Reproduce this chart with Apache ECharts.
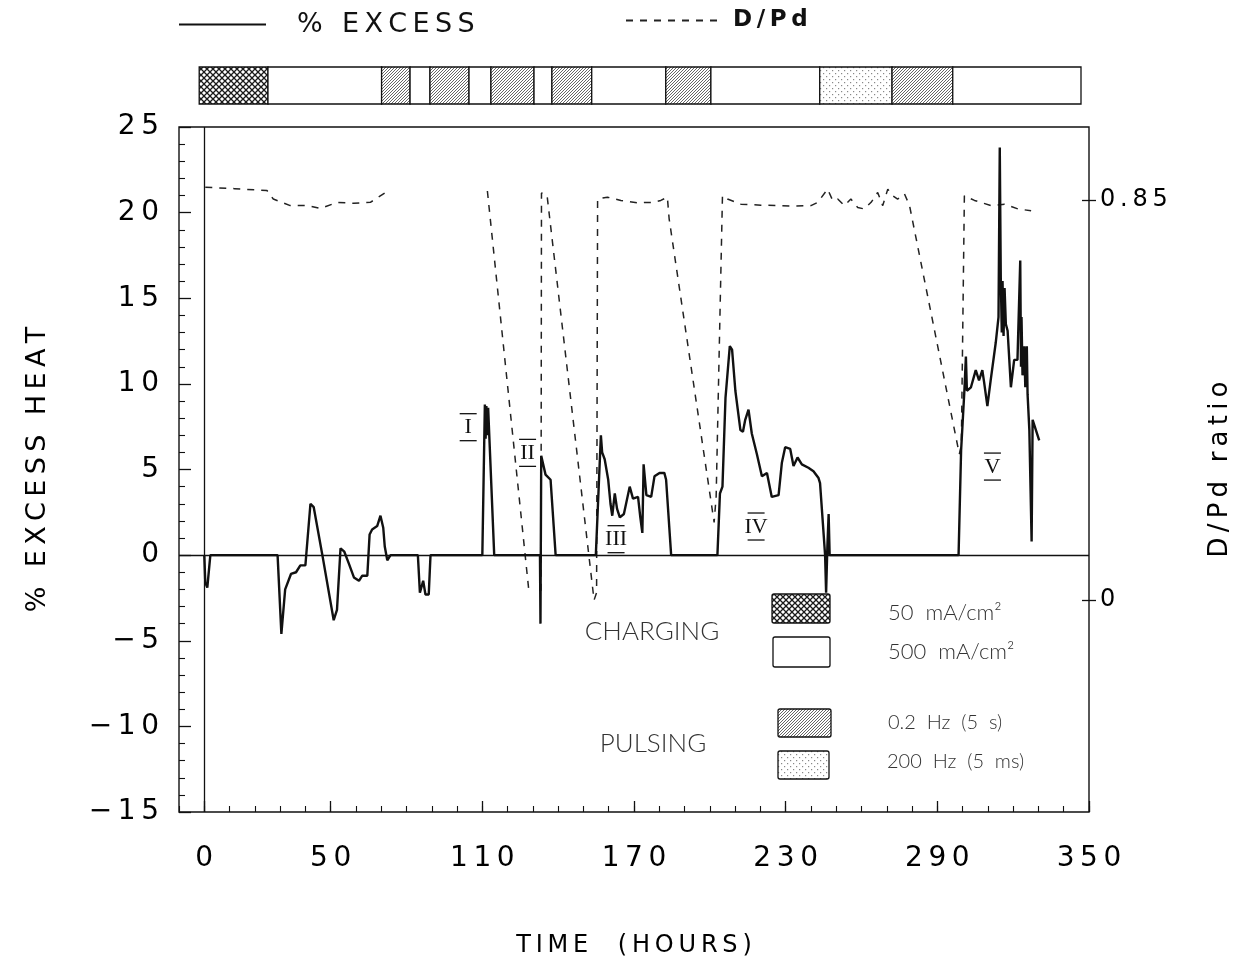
<!DOCTYPE html>
<html>
<head>
<meta charset="utf-8">
<title>Excess heat and D/Pd ratio</title>
<script src="https://cdn.jsdelivr.net/npm/echarts@6/dist/echarts.min.js"></script>
<style>
  html, body { margin: 0; padding: 0; background: #fff; }
  #chart { width: 1248px; height: 966px; }
</style>
</head>
<body>
<div id="chart"></div>
<script>
// ---- data ----
var xTicks = [0, 50, 110, 170, 230, 290, 350];
var ratioTicks = [0, 0.85];

// % excess heat, [hours, percent]
var excessHeat = [
  [0, 0], [0.4, -1.6], [1.2, -1.9], [2.4, 0], [29, 0], [30.5, -4.6], [32, -2.0],
  [34.3, -1.1], [36.3, -1.0], [38, -0.6], [40, -0.6], [42, 3.0], [43.3, 2.8],
  [46.6, 0.1], [51.2, -3.8], [52.5, -3.2], [53.9, 0.4], [55.4, 0.2], [57.2, -0.5],
  [59.2, -1.3], [61.2, -1.5], [62.5, -1.2], [64.5, -1.2], [65.4, 1.2], [66.4, 1.5],
  [68.4, 1.7], [69.7, 2.3], [70.8, 1.6], [71.4, 0.5], [72.4, -0.3], [73.7, 0],
  [84.5, 0], [85.3, -2.2], [86.6, -1.5], [87.5, -2.3], [88.8, -2.3], [89.5, 0],
  [110, 0], [111, 8.8], [111.3, 6.8], [111.6, 8.7], [111.9, 7.0], [112.3, 8.6], [114.7, 0],
  [132.8, 0], [133, -4.0], [133.3, 5.8], [135, 4.7], [137, 4.4], [139, 0],
  [147, 0], [147.4, 0.1], [147.8, 0], [154.9, 0], [156.9, 7.0], [157.4, 6.0],
  [158.4, 5.6], [159, 5.7], [159.8, 4.4], [160.7, 3.0], [161.4, 2.3], [162.4, 3.6],
  [163.3, 2.7], [164.4, 2.2], [166, 2.4], [168.3, 4.0], [169.6, 3.3], [171.6, 3.4],
  [172.5, 2.2], [173.3, 1.3], [173.8, 5.3], [174.9, 3.5], [176.8, 3.4], [178.1, 4.6],
  [180.1, 4.8], [182, 4.8], [182.7, 4.4], [184.7, 0], [203, 0], [204, 3.6], [205, 4.0],
  [206.2, 9.2], [207.9, 12.2], [208.8, 12.0], [210.1, 9.6], [212.1, 7.3], [213.1, 7.2],
  [214, 7.9], [215.3, 8.5], [216.6, 7.1], [218.6, 5.9], [220.6, 4.6], [222.6, 4.8],
  [224.5, 3.4], [227.2, 3.5], [228.5, 5.4], [229.8, 6.3], [231.8, 6.2], [233.1, 5.2],
  [234.7, 5.7], [236.4, 5.3], [239, 5.1], [241, 4.9], [243, 4.5], [243.6, 4.2],
  [244.7, 1.9], [245.6, 0], [246, -2.2], [246.5, 0.5], [247, 2.4], [247.4, 0],
  [298.4, 0], [299.4, 6.1], [300, 7.7], [300.7, 9.6], [301.3, 11.6], [301.7, 9.6],
  [303.3, 9.8], [305.2, 10.8], [306.5, 10.2], [307.8, 10.8], [308.5, 10.1], [309.8, 8.7],
  [311.1, 10.2], [313.1, 12.4], [314.2, 13.9], [314.7, 23.8], [315.1, 16.2], [315.5, 13.0],
  [315.8, 16.0], [316.2, 12.8], [316.6, 15.6], [317.1, 13.5], [317.8, 13.1], [319.1, 9.8],
  [320.4, 11.4], [321.7, 11.4], [322.8, 17.2], [323.1, 11.0], [323.3, 13.9], [323.7, 10.5],
  [324.4, 12.2], [324.8, 9.8], [325.4, 12.2], [325.7, 9.4], [326.4, 7.3], [327.3, 0.8],
  [327.7, 7.9], [329, 7.3], [330.3, 6.7]
];

// D/Pd loading ratio, [hours, ratio]; null values break the line
var dpdRatio = [
  [0.4, 0.877], [12, 0.874], [24.8, 0.870], [27.3, 0.852], [34, 0.838], [40.7, 0.838],
  [46, 0.832], [52.6, 0.845], [59.1, 0.843], [65.7, 0.845], [72.4, 0.868], [90, null],
  [112, 0.869], [128.4, 0.02], [131, null], [133.2, 0.02], [133.4, 0.865], [135.6, 0.86],
  [154.2, 0.0], [155.2, 0.016], [155.6, 0.852], [159.5, 0.856], [164.8, 0.849],
  [171.4, 0.844], [178, 0.845], [180.6, 0.849], [183.2, 0.856], [183.9, 0.81],
  [201.7, 0.165], [202.5, 0.22], [205, 0.859], [207, 0.852], [212.3, 0.841],
  [220.2, 0.839], [226.8, 0.838], [233.4, 0.837], [240, 0.838], [242.7, 0.845],
  [246.6, 0.873], [248.6, 0.849], [250.6, 0.852], [253.2, 0.838], [255.8, 0.852],
  [258.5, 0.834], [261.1, 0.831], [263.8, 0.845], [266.4, 0.866], [268.4, 0.838],
  [270.4, 0.873], [272.4, 0.859], [274.3, 0.852], [277, 0.863], [279, 0.838],
  [298.7, 0.31], [299.5, 0.33], [300.7, 0.859], [304.7, 0.849], [311.3, 0.838],
  [316.6, 0.841], [321.9, 0.831], [327.1, 0.827]
];

// charging / pulsing schedule shown in the strip above the plot
var bandStart = [0, 27.3, 72.4, 83.7, 91.6, 107.1, 115.8, 132.9, 140, 155.8, 185.2, 203.1, 246.3, 275, 299.1];
var bandEnd   = [27.3, 72.4, 83.7, 91.6, 107.1, 115.8, 132.9, 140, 155.8, 185.2, 203.1, 246.3, 275, 299.1, 350];
var bandMode  = ['low', 'high', 'slow', 'high', 'slow', 'high', 'slow', 'high', 'slow', 'high', 'slow', 'high', 'fast', 'slow', 'high'];

// roman numeral markers for the heat bursts
var peakNames  = ['I', 'II', 'III', 'IV', 'V'];
var peakHours  = [104.4, 127.9, 162.9, 218.3, 311.8];
var peakValues = [7.5, 6.0, 0.96, 1.7, 5.2];

// ---- helpers ----
function spaced(s) { return String(s).split('').join('\u2009'); }

function makePattern(kind) {
  var c = document.createElement('canvas');
  var ctx = c.getContext('2d');
  if (kind === 'low') {
    c.width = 6; c.height = 6;
    ctx.fillStyle = '#fff'; ctx.fillRect(0, 0, 6, 6);
    ctx.strokeStyle = '#1a1a1a'; ctx.lineWidth = 1.3;
    ctx.beginPath();
    ctx.moveTo(0, 0); ctx.lineTo(6, 6);
    ctx.moveTo(6, 0); ctx.lineTo(0, 6);
    ctx.stroke();
  } else if (kind === 'slow') {
    c.width = 3; c.height = 3;
    ctx.fillStyle = '#fff'; ctx.fillRect(0, 0, 3, 3);
    ctx.strokeStyle = '#555'; ctx.lineWidth = 0.9;
    ctx.beginPath();
    ctx.moveTo(-1, 4); ctx.lineTo(4, -1);
    ctx.moveTo(-1, 1); ctx.lineTo(1, -1);
    ctx.moveTo(2, 4); ctx.lineTo(4, 2);
    ctx.stroke();
  } else if (kind === 'fast') {
    c.width = 6; c.height = 6;
    ctx.fillStyle = '#fff'; ctx.fillRect(0, 0, 6, 6);
    ctx.fillStyle = '#888';
    ctx.fillRect(1, 1, 1.2, 1.2);
    ctx.fillRect(4, 4, 1.2, 1.2);
  } else {
    return '#fff';
  }
  return { image: c, repeat: 'repeat' };
}
var fills = {
  low: makePattern('low'),
  high: makePattern('high'),
  slow: makePattern('slow'),
  fast: makePattern('fast')
};

var ink = '#111';
var legendFont = 'Lato';

var chart = echarts.init(document.getElementById('chart'));

var option = {
  animation: false,
  backgroundColor: '#fff',
  textStyle: { fontFamily: 'DejaVu Sans', color: ink },
  legend: [
    {
      data: ['% EXCESS'], left: 173, top: 6, itemWidth: 87, itemHeight: 14,
      itemStyle: { opacity: 0 },
      formatter: function (n) { return spaced(n); },
      textStyle: { fontSize: 27, color: ink, padding: [0, 0, 0, 26] }
    },
    {
      data: ['D/Pd'], left: 620, top: 4, itemWidth: 92, itemHeight: 14,
      itemStyle: { opacity: 0 },
      formatter: function (n) { return spaced(n); },
      textStyle: { fontSize: 23, fontWeight: 'bold', color: ink, padding: [0, 0, 0, 10] }
    }
  ],
  grid: [
    { left: 179, right: 159, top: 127, bottom: 154, show: true, borderColor: ink, borderWidth: 1.4 },
    { left: 174, right: 167, top: 67, height: 37 }
  ],
  xAxis: [
    {
      gridIndex: 0, type: 'value', min: -10, max: 350, position: 'bottom',
      axisLine: { show: false, onZero: false },
      axisTick: { inside: true, length: 11, customValues: xTicks, lineStyle: { color: ink, width: 1.3 } },
      axisLabel: { customValues: xTicks, formatter: spaced, fontSize: 28, color: '#000', margin: 33 },
      splitLine: { show: false },
      name: spaced('TIME  (HOURS)'), nameLocation: 'middle', nameGap: 122,
      nameTextStyle: { fontSize: 24, color: '#000' }
    },
    {
      gridIndex: 0, type: 'value', min: -10, max: 350, interval: 10, position: 'bottom',
      axisLine: { show: false, onZero: false },
      axisTick: { inside: true, length: 6, lineStyle: { color: ink, width: 1.1 } },
      axisLabel: { show: false }, splitLine: { show: false }
    },
    { gridIndex: 1, type: 'value', min: -10, max: 350, show: false }
  ],
  yAxis: [
    {
      gridIndex: 0, type: 'value', min: -15, max: 25, interval: 5, position: 'left',
      axisLine: { show: false, onZero: false },
      axisTick: { inside: true, length: 12, lineStyle: { color: ink, width: 1.3 } },
      minorTick: { show: true, splitNumber: 5, length: 6, lineStyle: { color: ink, width: 1.1 } },
      axisLabel: {
        fontSize: 28, color: '#000', margin: 20,
        formatter: function (v) { return v < 0 ? '\u2212\u2009' + spaced(-v) : spaced(v); }
      },
      splitLine: { show: false },
      name: spaced('% EXCESS HEAT'), nameLocation: 'middle', nameGap: 128, nameRotate: 90,
      nameTextStyle: { fontSize: 27, color: '#000' }
    },
    {
      gridIndex: 0, type: 'value', min: -0.45, max: 1.005, position: 'right',
      axisLine: { show: false, onZero: false },
      axisTick: { inside: false, length: 7, customValues: ratioTicks, lineStyle: { color: ink, width: 1.3 } },
      axisLabel: {
        customValues: ratioTicks, fontSize: 24, color: '#000', margin: 11,
        formatter: function (v) { return v === 0 ? '0' : spaced(v.toFixed(2)); }
      },
      splitLine: { show: false },
      name: spaced('D/Pd ratio'), nameLocation: 'middle', nameGap: 118, nameRotate: 90,
      nameTextStyle: { fontSize: 26, color: '#000' }
    },
    {
      gridIndex: 0, type: 'value', min: -0.45, max: 1.005, position: 'right', offset: 0,
      axisLine: { show: false, onZero: false },
      axisTick: { inside: true, length: 7, customValues: ratioTicks, lineStyle: { color: ink, width: 1.3 } },
      axisLabel: { show: false }, splitLine: { show: false }
    },
    { gridIndex: 1, type: 'value', min: 0, max: 1, show: false }
  ],
  series: [
    {
      name: '% EXCESS', type: 'line', xAxisIndex: 0, yAxisIndex: 0,
      data: excessHeat, symbol: 'none', z: 4,
      lineStyle: { color: ink, width: 2.4 },
      itemStyle: { color: ink },
      markLine: {
        silent: true, symbol: 'none', label: { show: false },
        lineStyle: { color: ink, width: 1.3, type: 'solid' },
        data: [{ xAxis: 0 }, { yAxis: 0 }]
      }
    },
    {
      name: 'D/Pd', type: 'line', xAxisIndex: 0, yAxisIndex: 1,
      data: dpdRatio, symbol: 'none', connectNulls: false, z: 3,
      lineStyle: { color: '#222', width: 1.5, type: [7, 7] },
      itemStyle: { color: '#222' }
    },
    {
      name: 'schedule', type: 'custom', xAxisIndex: 2, yAxisIndex: 3, silent: true,
      data: bandStart.map(function (s, i) { return [s, bandEnd[i], i]; }),
      renderItem: function (params, api) {
        var i = api.value(2);
        var p0 = api.coord([api.value(0), 1]);
        var p1 = api.coord([api.value(1), 0]);
        return {
          type: 'rect',
          shape: { x: p0[0], y: p0[1], width: p1[0] - p0[0], height: p1[1] - p0[1] },
          style: { fill: fills[bandMode[i]], stroke: ink, lineWidth: 1.3 }
        };
      }
    },
    {
      name: 'bursts', type: 'custom', xAxisIndex: 0, yAxisIndex: 0, silent: true, z: 5,
      data: peakHours.map(function (h, i) { return [h, peakValues[i], i]; }),
      renderItem: function (params, api) {
        var p = api.coord([api.value(0), api.value(1)]);
        var w = 17;
        return {
          type: 'group',
          children: [
            { type: 'text', style: { text: peakNames[api.value(2)], x: p[0], y: p[1] + 1, align: 'center', verticalAlign: 'middle', font: '22px "Liberation Serif"', fill: ink } },
            { type: 'line', shape: { x1: p[0] - w / 2, y1: p[1] - 13, x2: p[0] + w / 2, y2: p[1] - 13 }, style: { stroke: ink, lineWidth: 1.3 } },
            { type: 'line', shape: { x1: p[0] - w / 2, y1: p[1] + 14, x2: p[0] + w / 2, y2: p[1] + 14 }, style: { stroke: ink, lineWidth: 1.3 } }
          ]
        };
      }
    }
  ],
  graphic: [
    { type: 'rect', shape: { x: 772, y: 594, width: 58, height: 29, r: 2 }, style: { fill: fills.low, stroke: ink, lineWidth: 1.3 } },
    { type: 'rect', shape: { x: 773, y: 637, width: 57, height: 30, r: 2 }, style: { fill: '#fff', stroke: ink, lineWidth: 1.3 } },
    { type: 'rect', shape: { x: 778, y: 709, width: 53, height: 28, r: 2 }, style: { fill: fills.slow, stroke: ink, lineWidth: 1.3 } },
    { type: 'rect', shape: { x: 778, y: 751, width: 51, height: 28, r: 2 }, style: { fill: fills.fast, stroke: ink, lineWidth: 1.3 } },
    { type: 'text', x: 652, y: 632, style: { text: 'CHARGING', align: 'center', verticalAlign: 'middle', font: '300 26px ' + legendFont, fill: '#333' } },
    { type: 'text', x: 653, y: 744, style: { text: 'PULSING', align: 'center', verticalAlign: 'middle', font: '300 26px ' + legendFont, fill: '#333' } },
    { type: 'text', x: 888, y: 613, style: { text: '50  mA/cm\u00b2', verticalAlign: 'middle', font: '300 22px ' + legendFont, fill: '#333' } },
    { type: 'text', x: 888, y: 652, style: { text: '500  mA/cm\u00b2', verticalAlign: 'middle', font: '300 22px ' + legendFont, fill: '#333' } },
    { type: 'text', x: 888, y: 723, style: { text: '0.2  Hz  (5  s)', verticalAlign: 'middle', font: '300 20px ' + legendFont, fill: '#333' } },
    { type: 'text', x: 887, y: 762, style: { text: '200  Hz  (5  ms)', verticalAlign: 'middle', font: '300 20px ' + legendFont, fill: '#333' } }
  ]
};

chart.setOption(option);
</script>
</body>
</html>
